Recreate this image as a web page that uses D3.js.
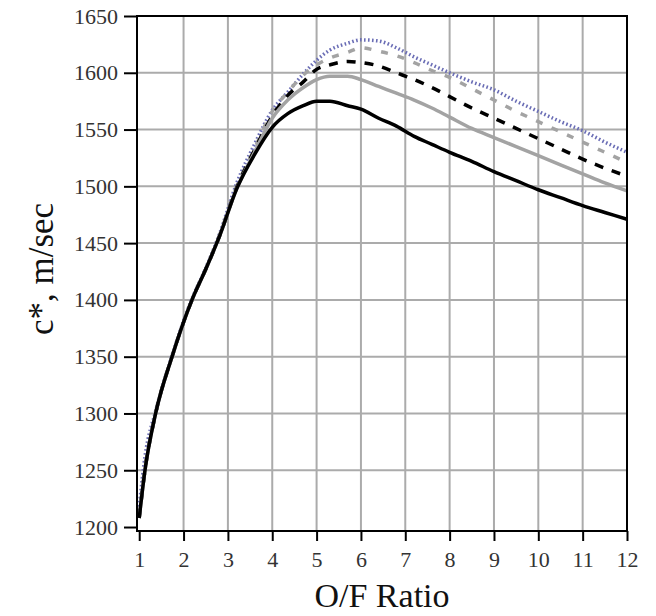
<!DOCTYPE html>
<html>
<head>
<meta charset="utf-8">
<script src="https://cdn.jsdelivr.net/npm/d3@7"></script>
<style>
  html, body { margin: 0; padding: 0; background: #fff; }
</style>
</head>
<body>
<div id="container"></div>
<script>
// O/F ratio sample points (x) shared by every curve
const ofRatio = [1, 1.13, 1.37, 1.74, 2.19, 2.5, 2.8, 3.2, 3.6, 4, 4.35, 4.7, 5, 5.3, 5.7, 6, 6.4, 6.8, 7.2, 7.6, 8, 8.5, 9, 9.5, 10, 10.5, 11, 11.5, 12];

// c* values, m/sec
const blackSolid  = [1208, 1250, 1300, 1350, 1400, 1427, 1455, 1498, 1528, 1552, 1564, 1571, 1575, 1575, 1571, 1568, 1560, 1553, 1544, 1537, 1530, 1522, 1513, 1505, 1497, 1490, 1483, 1477, 1471];
const graySolid   = [1208, 1250, 1300, 1350, 1400, 1427, 1455, 1498, 1530, 1560, 1576, 1587, 1594, 1597, 1597, 1594, 1588, 1582, 1576, 1569, 1561, 1551, 1543, 1535, 1527, 1519, 1511, 1503, 1496];
const blackDashed = [1208, 1250, 1300, 1350, 1400, 1427, 1455, 1499, 1532, 1562, 1580, 1592, 1603, 1607, 1610, 1609, 1606, 1600, 1594, 1587, 1579, 1569, 1560, 1551, 1542, 1533, 1524, 1516, 1509];
const grayDashed  = [1210, 1252, 1300, 1350, 1400, 1427, 1456, 1500, 1533, 1566, 1583, 1598, 1607, 1613, 1618, 1622, 1619, 1615, 1609, 1602, 1596, 1586, 1576, 1566, 1557, 1548, 1539, 1530, 1521];
const blueDotted  = [1218, 1262, 1302, 1351, 1401, 1428, 1457, 1503, 1537, 1567, 1583, 1599, 1611, 1620, 1626, 1629, 1628, 1622, 1614, 1607, 1600, 1592, 1585, 1575, 1566, 1557, 1549, 1539, 1530];

const xTicks = [1, 2, 3, 4, 5, 6, 7, 8, 9, 10, 11, 12];
const yTicks = [1200, 1250, 1300, 1350, 1400, 1450, 1500, 1550, 1600, 1650];

function draw() {
    const width = 656;
    const height = 616;

    const left = 137;
    const right = 627;
    const top = 16;
    const bottom = 531;

    const svg = d3.select('#container')
        .append('svg')
        .attr('width', width)
        .attr('height', height)
        .attr('viewBox', `0 0 ${width} ${height}`);

    const x = d3.scaleLinear().domain([0.95, 12]).range([left, right]);
    const y = d3.scaleLinear().domain([1196.5, 1650]).range([bottom, top]);

    // grid
    svg.append('g')
        .selectAll('line')
        .data(xTicks.slice(1, -1))
        .join('line')
        .attr('x1', d => x(d)).attr('x2', d => x(d))
        .attr('y1', top).attr('y2', bottom)
        .attr('stroke', '#ababab')
        .attr('stroke-width', 2);

    svg.append('g')
        .selectAll('line')
        .data(yTicks.slice(1, -1))
        .join('line')
        .attr('x1', left).attr('x2', right)
        .attr('y1', d => y(d)).attr('y2', d => y(d))
        .attr('stroke', '#ababab')
        .attr('stroke-width', 2);

    // curves
    const series = [
        { values: blueDotted,  color: '#6a6db5', dash: '1.6,2.4' },
        { values: grayDashed,  color: '#a3a3a3', dash: '7,10' },
        { values: blackDashed, color: '#000',    dash: '9,9' },
        { values: graySolid,   color: '#a3a3a3', dash: null },
        { values: blackSolid,  color: '#000',    dash: null }
    ];

    const line = d3.line()
        .x((d, i) => x(ofRatio[i]))
        .y(d => y(d))
        .curve(d3.curveMonotoneX);

    svg.append('g')
        .selectAll('path')
        .data(series)
        .join('path')
        .attr('d', d => line(d.values))
        .attr('fill', 'none')
        .attr('stroke', d => d.color)
        .attr('stroke-width', 3.5)
        .attr('stroke-dasharray', d => d.dash);

    // frame
    svg.append('rect')
        .attr('x', left)
        .attr('y', top)
        .attr('width', right - left)
        .attr('height', bottom - top)
        .attr('fill', 'none')
        .attr('stroke', '#000')
        .attr('stroke-width', 2);

    // axes
    const yAxis = svg.append('g')
        .attr('transform', `translate(${left},0)`)
        .call(d3.axisLeft(y).tickValues(yTicks).tickSize(13).tickPadding(6).tickFormat(d3.format('d')));

    const xAxis = svg.append('g')
        .attr('transform', `translate(0,${bottom})`)
        .call(d3.axisBottom(x).tickValues(xTicks).tickSize(10).tickPadding(10).tickFormat(d3.format('d')));

    [yAxis, xAxis].forEach(ax => {
        ax.select('.domain').remove();
        ax.selectAll('.tick line').attr('stroke', '#000').attr('stroke-width', 2);
        ax.selectAll('.tick text')
            .style('font-family', '"Liberation Serif", "DejaVu Serif", serif')
            .style('font-size', '22px')
            .attr('fill', '#333');
    });

    // axis titles
    svg.append('text')
        .text('O/F Ratio')
        .attr('x', (left + right) / 2)
        .attr('y', 607)
        .attr('text-anchor', 'middle')
        .style('font-family', '"Liberation Serif", "DejaVu Serif", serif')
        .style('font-size', '34px')
        .style('fill', '#111');

    svg.append('text')
        .text('c*, m/sec')
        .attr('transform', 'translate(53,269) rotate(-90)')
        .attr('text-anchor', 'middle')
        .style('font-family', '"Liberation Serif", "DejaVu Serif", serif')
        .style('font-size', '35px')
        .style('fill', '#111');
}

draw();
</script>
</body>
</html>
